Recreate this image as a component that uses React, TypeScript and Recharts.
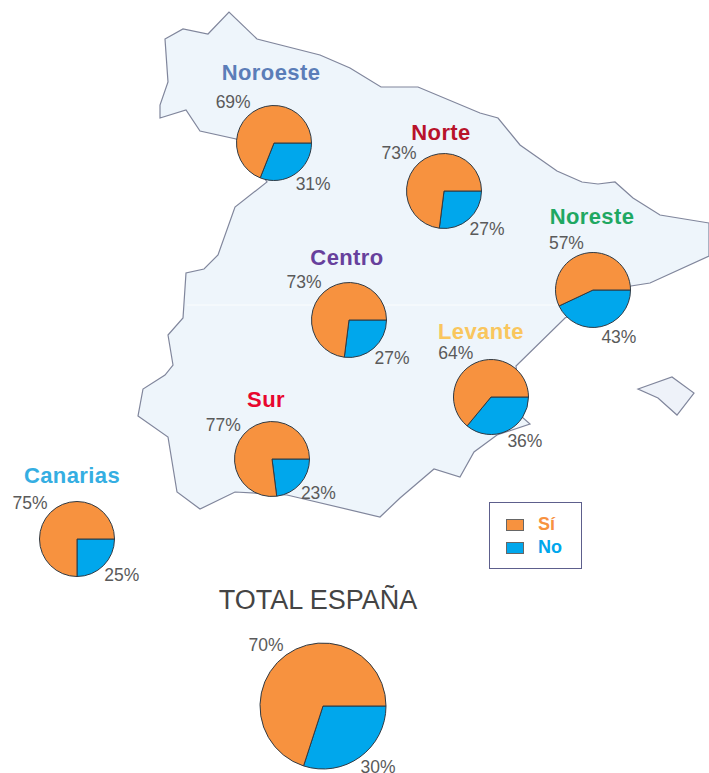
import React from 'react';
import { PieChart, Pie, Cell, Legend } from 'recharts';

const WIDTH = 709;
const HEIGHT = 773;
const RADIAN = Math.PI / 180;
const FONT = '"Liberation Sans", Arial, sans-serif';

// values
const regions = ['Noroeste', 'Norte', 'Noreste', 'Centro', 'Levante', 'Sur', 'Canarias', 'TOTAL ESPAÑA'];
const siValues = [69, 73, 57, 73, 64, 77, 75, 70];
const noValues = [31, 27, 43, 27, 36, 23, 25, 30];

// layout of each pie, same order as regions
const pieCx = [274, 444, 593, 349, 491, 272, 77, 323];
const pieCy = [143, 191, 290, 320, 397, 459, 539, 706];
const pieR = [37.5, 37.5, 37.5, 37.5, 37.5, 37.5, 37.5, 63];
const titleX = [271, 441, 592, 347, 481, 266, 72, 318];
const titleY = [80, 140, 224, 265, 339, 407, 483, 609];
const titleColors = ['#5b7db8', '#b8122a', '#1fa862', '#67409c', '#f9c65e', '#e8062e', '#35aee2', '#444444'];

const SI_COLOR = '#f7923f';
const NO_COLOR = '#00a7ec';

const mapOutline =
  'M165,39 L183,29 L208,34 L229,12 L257,39 L320,55 L350,68 L381,87 L418,87 L480,113 L498,118 L520,145 ' +
  'L557,171 L582,182 L598,184 L615,182 L633,198 L660,215 L709,223 L709,256 L650,283 L631,286 L565,318 ' +
  'L516,366 L522,417 L530,424 L497,435 L474,452 L460,477 L434,469 L400,498 L380,517 L287,495 L235,492 ' +
  'L200,509 L177,492 L168,437 L138,416 L143,389 L165,375 L173,365 L168,335 L183,318 L186,273 L204,269 ' +
  'L218,255 L235,207 L267,182 L236,139 L200,131 L186,110 L160,118 L160,105 L168,82 Z';
const islandOutline = 'M638,389 L672,377 L694,393 L677,415 L658,398 Z';

const renderPercent = ({ cx, cy, midAngle, outerRadius, value }: any) => {
  const cos = Math.cos(-midAngle * RADIAN);
  const sin = Math.sin(-midAngle * RADIAN);
  return (
    <text
      x={cx + (outerRadius + (cos > 0 ? 1 : 4)) * cos}
      y={cy + (outerRadius + 2) * sin + (sin > 0 ? 8 : -8)}
      fill="#5a5a5a"
      fontSize={17.5}
      fontFamily={FONT}
      textAnchor={cos > 0 ? 'start' : 'end'}
      dominantBaseline="central"
    >
      {`${value}%`}
    </text>
  );
};

const renderLegend = () => (
  <div style={{ width: 93, height: 67, boxSizing: 'border-box', border: '1px solid #5d5f8c', background: '#fff', fontFamily: FONT }}>
    {[['Sí', SI_COLOR], ['No', NO_COLOR]].map(([name, color], i) => (
      <div key={name} style={{ position: 'absolute', left: 17, top: 16 + i * 23, display: 'flex', alignItems: 'center', height: 13 }}>
        <span style={{ width: 18, height: 12, background: color, border: '1px solid #666', boxSizing: 'border-box', marginRight: 14 }} />
        <span style={{ color, fontSize: 18, fontWeight: 'bold' }}>{name}</span>
      </div>
    ))}
  </div>
);

const App = () => (
  <div style={{ position: 'absolute', left: 0, top: 0, width: WIDTH, height: HEIGHT, background: '#fff' }}>
    <PieChart width={WIDTH} height={HEIGHT} margin={{ top: 0, right: 0, bottom: 0, left: 0 }}>
      <path d={mapOutline} fill="#eef5fb" stroke="#80869c" strokeWidth={1.2} />
      <path d={islandOutline} fill="#eef2f9" stroke="#80869c" strokeWidth={1.2} />
      {regions.map((region, i) => (
        <Pie
          key={region}
          data={[
            { name: 'No', value: noValues[i] },
            { name: 'Sí', value: siValues[i] },
          ]}
          dataKey="value"
          nameKey="name"
          cx={pieCx[i]}
          cy={pieCy[i]}
          innerRadius={0}
          outerRadius={pieR[i]}
          startAngle={0}
          endAngle={-360}
          stroke="#2f3a44"
          strokeWidth={1}
          labelLine={false}
          label={renderPercent}
          isAnimationActive={false}
        >
          <Cell fill={NO_COLOR} />
          <Cell fill={SI_COLOR} />
        </Pie>
      ))}
      {/* faint white seam that runs across the original image */}
      <line x1={187} x2={630} y1={305} y2={305} stroke="#ffffff" strokeWidth={1} opacity={0.8} />
      {regions.map((region, i) => (
        <text
          key={region}
          x={titleX[i]}
          y={titleY[i]}
          fill={titleColors[i]}
          fontFamily={FONT}
          fontSize={i === 7 ? 27 : 22}
          fontWeight={i === 7 ? 'normal' : 'bold'}
          letterSpacing={i === 7 ? 0 : 0.4}
          textAnchor="middle"
        >
          {region}
        </text>
      ))}
      {/* center + middle keeps the legend from shrinking the plot area */}
      <Legend
        content={renderLegend}
        layout="horizontal"
        align="center"
        verticalAlign="middle"
        wrapperStyle={{ left: 489, top: 502, width: 93, height: 67 }}
      />
    </PieChart>
  </div>
);

export default App;
